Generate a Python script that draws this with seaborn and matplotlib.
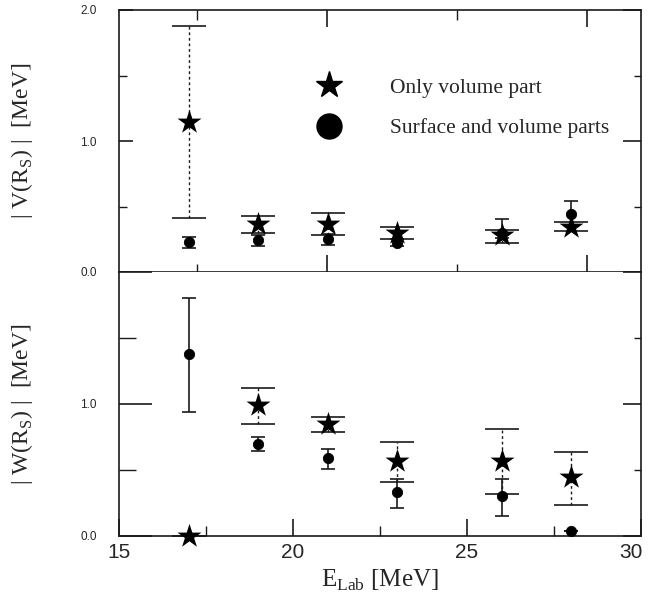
import matplotlib
matplotlib.use("Agg")
import matplotlib.pyplot as plt
import matplotlib.transforms as mtransforms
import seaborn as sns
from matplotlib.lines import Line2D

sns.set_theme(style="ticks")
plt.rcParams['font.family'] = ['Liberation Serif', 'DejaVu Serif']

# energies (MeV)
e_lab = [17, 19, 21, 23, 26, 28]

# |V(Rs)| : only volume part (stars) and surface+volume parts (circles)
v_vol = [1.147, 0.37, 0.37, 0.295, 0.28, 0.346]
v_vol_lo = [0.415, 0.295, 0.28, 0.25, 0.225, 0.31]
v_vol_hi = [1.878, 0.43, 0.45, 0.34, 0.32, 0.38]
v_sv = [0.227, 0.244, 0.255, 0.225, 0.30, 0.44]
v_sv_lo = [0.185, 0.20, 0.206, 0.20, 0.26, 0.35]
v_sv_hi = [0.27, 0.28, 0.29, 0.25, 0.405, 0.54]

# |W(Rs)|
w_vol = [0.0, 0.99, 0.85, 0.565, 0.57, 0.445]
w_vol_lo = [0.0, 0.85, 0.785, 0.41, 0.32, 0.235]
w_vol_hi = [0.0, 1.125, 0.90, 0.71, 0.81, 0.64]
w_sv = [1.379, 0.70, 0.59, 0.33, 0.30, 0.04]
w_sv_lo = [0.94, 0.646, 0.51, 0.215, 0.15, 0.04]
w_sv_hi = [1.80, 0.75, 0.66, 0.43, 0.435, 0.04]

x_ticks = [15, 20, 25, 30]
x_minor = [17.5, 22.5, 27.5]
top_major = [20.98, 28.45]
top_minor = [17.24, 24.71]

ink = '#1a1a1a'
sans = ['Liberation Sans', 'DejaVu Sans']

fig = plt.figure(figsize=(6.51, 6.09), dpi=100)
ax1 = fig.add_axes([119 / 651, 1 - 272 / 609, 522 / 651, 262 / 609])
ax2 = fig.add_axes([119 / 651, 1 - 536 / 609, 522 / 651, 264 / 609])


def draw(ax, y, lo, hi, ys, los, his):
    err_v = [[a - b for a, b in zip(y, lo)], [b - a for a, b in zip(y, hi)]]
    err_s = [[a - b for a, b in zip(ys, los)], [b - a for a, b in zip(ys, his)]]
    eb = ax.errorbar(e_lab, y, yerr=err_v, fmt='none', ecolor=ink,
                     elinewidth=1.0, capsize=12, capthick=1.2, zorder=2)
    eb[2][0].set_linestyle((0, (2, 2)))
    ax.errorbar(e_lab, ys, yerr=err_s, fmt='none', ecolor=ink,
                elinewidth=1.2, capsize=5, capthick=1.2, zorder=2)
    sns.scatterplot(x=e_lab, y=ys, marker='o', s=55, color='black',
                    edgecolor='black', ax=ax, zorder=3, clip_on=False)
    sns.scatterplot(x=e_lab, y=y, marker='*', s=330, color='black',
                    edgecolor='black', linewidth=0, ax=ax, zorder=4,
                    clip_on=False)


draw(ax1, v_vol, v_vol_lo, v_vol_hi, v_sv, v_sv_lo, v_sv_hi)
draw(ax2, w_vol, w_vol_lo, w_vol_hi, w_sv, w_sv_lo, w_sv_hi)

for ax in (ax1, ax2):
    ax.set_xlim(15, 30)
    ax.set_ylim(0, 2.0)
    for s in ax.spines.values():
        s.set_color(ink)
        s.set_linewidth(1.2)
    ax.set_yticks([0.5, 1.5], minor=True)
    sec = ax.secondary_yaxis('right')
    sec.set_yticks([0, 1, 2])
    sec.set_yticks([0.5, 1.5], minor=True)
    sec.set_yticklabels([])
    sec.tick_params(which='major', direction='in', length=13, width=1.2, color=ink)
    sec.tick_params(which='minor', direction='in', length=5, width=1.0, color=ink)
    sec.spines['right'].set_visible(False)

# top panel
ax1.set_yticks([0, 1, 2])
ax1.set_yticklabels(['0.0', '1.0', '2.0'], fontfamily=sans, fontsize=8.5)
ax1.tick_params(axis='y', which='major', direction='in', length=10, width=1.2,
                color=ink, pad=16)
ax1.tick_params(axis='y', which='minor', direction='in', length=6, width=1.0, color=ink)
ax1.set_xticks(top_major)
ax1.set_xticks(top_minor, minor=True)
ax1.set_xticklabels([])
ax1.tick_params(axis='x', which='major', direction='inout', length=24, width=1.2, color=ink)
ax1.tick_params(axis='x', which='minor', direction='inout', length=12, width=1.0, color=ink)
top = ax1.secondary_xaxis('top')
top.set_xticks(top_major)
top.set_xticks(top_minor, minor=True)
top.set_xticklabels([])
top.tick_params(which='major', direction='in', length=12, width=1.2, color=ink)
top.tick_params(which='minor', direction='in', length=7, width=1.0, color=ink)
top.spines['top'].set_visible(False)
ax1.set_ylabel(r'| V(R$_\mathregular{S}$) |  [MeV]', fontsize=17)
ax1.yaxis.set_label_coords(-0.16, 0.5)

# bottom panel
ax2.set_yticks([0, 1, 2])
ax2.set_yticklabels(['0.0', '1.0', ''], fontfamily=sans, fontsize=8.5)
ax2.tick_params(axis='y', which='major', direction='in', length=24, width=1.2,
                color=ink, pad=16)
ax2.tick_params(axis='y', which='minor', direction='in', length=12, width=1.0, color=ink)
ax2.set_xticks(x_ticks)
ax2.set_xticks(x_minor, minor=True)
ax2.set_xticklabels([str(t) for t in x_ticks], fontfamily=sans, fontsize=15)
ax2.tick_params(axis='x', which='major', direction='in', length=12, width=1.2,
                color=ink, pad=5)
ax2.tick_params(axis='x', which='minor', direction='in', length=7, width=1.0, color=ink)
last = ax2.get_xticklabels()[-1]
last.set_transform(last.get_transform() +
                   mtransforms.ScaledTranslation(-10 / 100, 0, fig.dpi_scale_trans))
ax2.spines['top'].set_visible(False)
ax2.set_ylabel(r'| W(R$_\mathregular{S}$) |  [MeV]', fontsize=17)
ax2.yaxis.set_label_coords(-0.16, 0.5)
ax2.set_xlabel(r'E$_\mathregular{Lab}$ [MeV]', fontsize=18, labelpad=4)

handles = [
    Line2D([], [], marker='*', color='black', linestyle='none', markersize=20),
    Line2D([], [], marker='o', color='black', linestyle='none', markersize=18),
]
ax1.legend(handles, ['Only volume part', 'Surface and volume parts'],
           loc='upper left', bbox_to_anchor=(0.345, 0.775), frameon=False,
           fontsize=15.5, handletextpad=1.8, labelspacing=0.95, borderaxespad=0)

fig.savefig('out.png', dpi=100)
